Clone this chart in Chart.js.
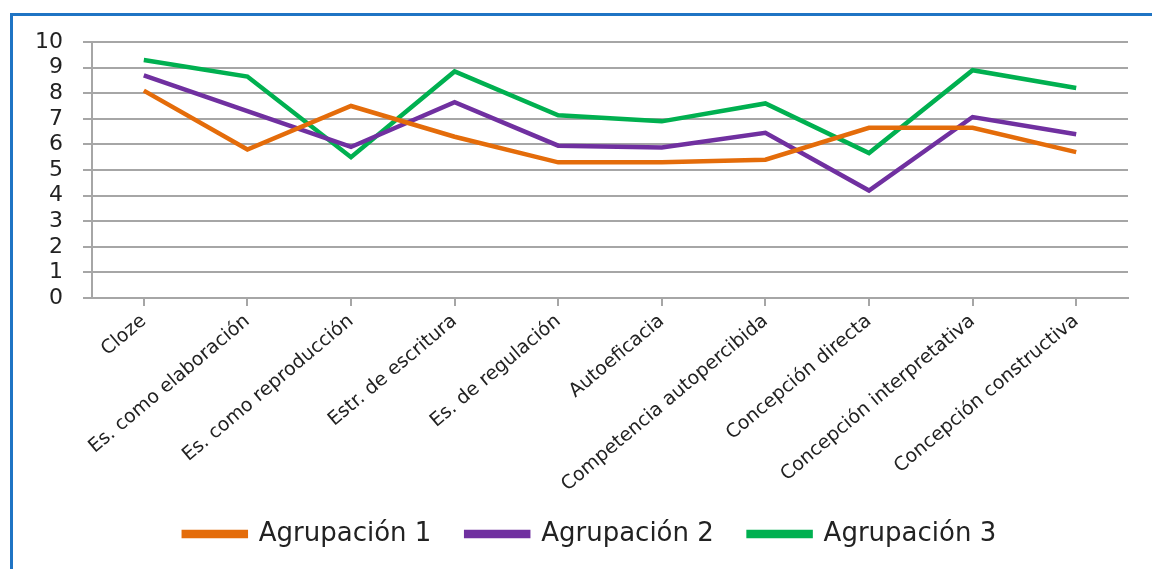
<!DOCTYPE html>
<html>
<head>
<meta charset="utf-8">
<script src="https://cdn.jsdelivr.net/npm/chart.js@4/dist/chart.umd.min.js"></script>
<style>
  body { margin: 0; background: #fff; overflow: hidden; }
  #frame { position: absolute; left: 10px; top: 13px; width: 1300px; height: 700px;
           border-left: 3px solid #1f74c4; border-top: 3px solid #1f74c4; }
  #wrap { position: absolute; left: 0; top: 0; width: 1152px; height: 569px; }
</style>
</head>
<body>
<div id="frame"></div>
<div id="wrap"><canvas id="myChart"></canvas></div>
<script>
var categories = [
  "Cloze",
  "Es. como elaboración",
  "Es. como reproducción",
  "Estr. de escritura",
  "Es. de regulación",
  "Autoeficacia",
  "Competencia autopercibida",
  "Concepción directa",
  "Concepción interpretativa",
  "Concepción constructiva"
];
var grupo1 = [8.1, 5.8, 7.5, 6.3, 5.3, 5.3, 5.4, 6.65, 6.65, 5.7];
var grupo2 = [8.7, 7.3, 5.9, 7.65, 5.95, 5.88, 6.45, 4.2, 7.07, 6.4];
var grupo3 = [9.3, 8.65, 5.5, 8.85, 7.14, 6.9, 7.6, 5.66, 8.9, 8.2];

function serie(label, values, color) {
  return {
    label: label,
    data: values,
    borderColor: color,
    backgroundColor: color,
    borderWidth: 4.5,
    pointRadius: 0,
    tension: 0,
    fill: false
  };
}

// the legend sits a little right of centre in the original
var legendShift = {
  id: "legendShift",
  afterLayout: function(chart) {
    chart.legend.left += 26;
    chart.legend.right += 26;
  }
};

var ctx = document.getElementById("myChart");
var myChart = new Chart(ctx, {
  type: "line",
  data: {
    labels: categories,
    datasets: [
      serie("Agrupación 1", grupo1, "#e46c0a"),
      serie("Agrupación 2", grupo2, "#7030a0"),
      serie("Agrupación 3", grupo3, "#00b050")
    ]
  },
  plugins: [legendShift],
  options: {
    responsive: true,
    maintainAspectRatio: false,
    animation: false,
    layout: { padding: { left: 0, right: 24, top: 42, bottom: 12 } },
    plugins: {
      tooltip: { enabled: false },
      legend: {
        position: "bottom",
        labels: {
          boxWidth: 62,
          boxHeight: 4,
          padding: 10,
          color: "#222",
          font: { family: "DejaVu Sans", size: 26 },
          generateLabels: function(chart) {
            var items = Chart.defaults.plugins.legend.labels.generateLabels(chart);
            // wider gaps between the entries, like the original
            items.forEach(function(it, i) {
              if (i < items.length - 1) it.text = it.text + "   ";
            });
            return items;
          }
        }
      }
    },
    scales: {
      x: {
        offset: true,
        grid: { drawOnChartArea: false, drawTicks: true, tickLength: 8, color: "#a6a6a6", lineWidth: 2 },
        border: { color: "#a6a6a6", width: 2 },
        ticks: {
          minRotation: 40,
          maxRotation: 40,
          padding: 4,
          color: "#222",
          font: { family: "DejaVu Sans", size: 19 }
        },
        afterFit: function(scale) { scale.height = 213; }
      },
      y: {
        min: 0,
        max: 10,
        grid: { color: "#a6a6a6", lineWidth: 2, tickLength: 9 },
        border: { color: "#a6a6a6", width: 2 },
        ticks: {
          stepSize: 1,
          autoSkip: false,
          padding: 20,
          color: "#222",
          font: { family: "DejaVu Sans", size: 22 }
        },
        afterFit: function(scale) { scale.width = 92; }
      }
    }
  }
});
</script>
</body>
</html>
